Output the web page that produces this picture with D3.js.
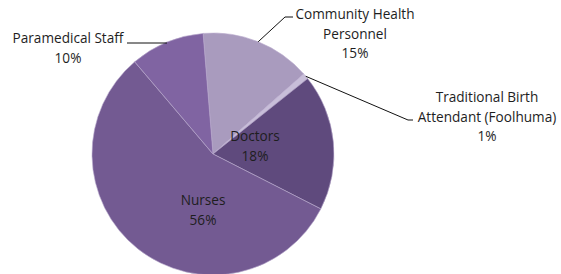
<!DOCTYPE html>
<html><head><meta charset="utf-8">
<script src="https://cdn.jsdelivr.net/npm/d3@7"></script>
<style>body{margin:0;background:#fff}svg{display:block}text{font-family:"Open Sans",Lato,sans-serif;font-size:13.6px;fill:#1e1e1e}</style>
</head><body><svg id="c" width="561" height="274"></svg>
<script>
const categories = ["Community Health Personnel","Traditional Birth Attendant (Foolhuma)","Doctors","Nurses","Paramedical Staff"];
const values = [14.8, 0.8, 18.2, 56.3, 9.9];
const pctLabels = ["15%","1%","18%","56%","10%"];
const colors = ["#a99bbe","#c8bed9","#5f4a7d","#735a92","#8064a2"];

const svg = d3.select("#c");
const cx = 213, cy = 154, R = 121;
const g = svg.append("g").attr("transform",`translate(${cx},${cy})`);
const start = -4.7*Math.PI/180;
const pie = d3.pie().sort(null).value(d=>d).startAngle(start).endAngle(start+2*Math.PI);
const arcs = pie(values);
const arc = d3.arc().innerRadius(0).outerRadius(R);
g.selectAll("path").data(arcs).join("path")
  .attr("d",arc).attr("fill",(d,i)=>colors[i])
  .attr("stroke","#b8a9cc").attr("stroke-width",0.6);

const labelPos = [
  {x:355, y:19, lines:["Community Health","Personnel"]},
  {x:487, y:102, lines:["Traditional Birth","Attendant (Foolhuma)"]},
  {x:255, y:141, lines:["Doctors"]},
  {x:203, y:205, lines:["Nurses"]},
  {x:68, y:43, lines:["Paramedical Staff"]}
];
const lh = 19.5;
labelPos.forEach((p,i)=>{
  const t = svg.append("text").attr("text-anchor","middle");
  p.lines.concat([pctLabels[i]]).forEach((s,k)=>{
    t.append("tspan").attr("x",p.x).attr("y",p.y+k*lh).text(s);
  });
});

function edge(i){ const a=(arcs[i].startAngle+arcs[i].endAngle)/2; return [cx+R*Math.sin(a), cy-R*Math.cos(a)]; }
const leaders = [
  {i:0, pts:[[285,17],[293,17]]},
  {i:1, pts:[[408,120],[413,120]]},
  {i:4, pts:[[127,43]]}
];
leaders.forEach(l=>{
  let e = edge(l.i);
  if(l.i===4){ e=[167,43]; }
  svg.append("path").attr("d",d3.line()([e].concat(l.pts))).attr("fill","none").attr("stroke","#111").attr("stroke-width",1);
});
</script></body></html>
